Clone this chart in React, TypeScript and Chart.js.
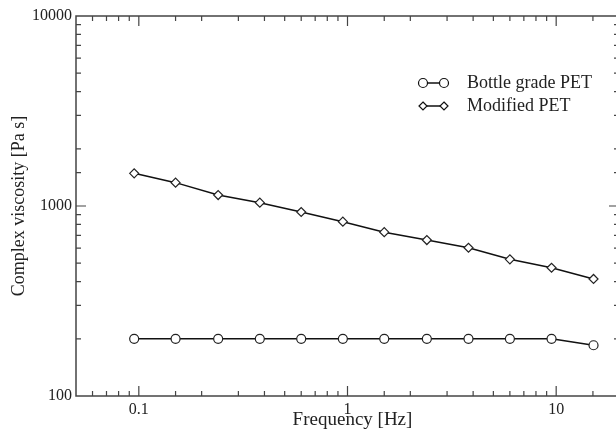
import React, { useEffect, useRef } from "react";
import { Chart, registerables } from "chart.js";

Chart.register(...registerables);

const frequency = [0.095, 0.15, 0.24, 0.38, 0.6, 0.95, 1.5, 2.4, 3.8, 6.0, 9.5, 15.1];
const bottleGrade = [200, 200, 200, 200, 200, 200, 200, 200, 200, 200, 200, 185];
const modifiedPET = [1486, 1327, 1142, 1041, 930, 827, 728, 662, 603, 524, 473, 413];

const xMajorLabels = [0.1, 1, 10];
const yMajorLabels = [100, 1000, 10000];
const seriesNames = ["Bottle grade PET", "Modified PET"];
const xTitle = "Frequency [Hz]";
const yTitle = "Complex viscosity [Pa s]";

const FONT = "'Liberation Serif', 'Times New Roman', serif";

function isMajor(v: number, majors: number[]) {
  return majors.some((m) => Math.abs(v - m) / m < 1e-6);
}

const framePlugin = {
  id: "framePlugin",
  afterDraw(chart: any) {
    const ctx = chart.ctx;
    const { left, right, top, bottom } = chart.chartArea;
    const xs = chart.scales.x;
    const ys = chart.scales.y;
    ctx.save();
    ctx.strokeStyle = "#444";
    ctx.lineWidth = 1.5;
    ctx.strokeRect(left, top, right - left, bottom - top);
    ctx.lineWidth = 1.2;
    ctx.beginPath();
    xs.ticks.forEach((t: any) => {
      const px = xs.getPixelForValue(t.value);
      if (px <= left + 1 || px >= right - 1) return;
      const len = isMajor(t.value, xMajorLabels) ? 10 : 5;
      ctx.moveTo(px, bottom);
      ctx.lineTo(px, bottom - len);
      ctx.moveTo(px, top);
      ctx.lineTo(px, top + len);
    });
    ys.ticks.forEach((t: any) => {
      const py = ys.getPixelForValue(t.value);
      if (py <= top + 1 || py >= bottom - 1) return;
      const len = isMajor(t.value, yMajorLabels) ? 10 : 5;
      ctx.moveTo(left, py);
      ctx.lineTo(left + len, py);
      ctx.moveTo(right, py);
      ctx.lineTo(right - len, py);
    });
    ctx.stroke();

    // axis titles
    ctx.fillStyle = "#222";
    ctx.font = `19px ${FONT}`;
    ctx.textAlign = "center";
    ctx.textBaseline = "middle";
    ctx.fillText(xTitle, xs.getPixelForValue(1) + 5, 420);
    ctx.font = `18px ${FONT}`;
    ctx.save();
    ctx.translate(19, (top + bottom) / 2);
    ctx.rotate(-Math.PI / 2);
    ctx.fillText(yTitle, 0, 0);
    ctx.restore();

    // legend
    const legendY = [83, 106];
    const styles = ["circle", "rectRot"];
    const radii = [4.5, 4];
    ctx.font = `18px ${FONT}`;
    ctx.textAlign = "left";
    seriesNames.forEach((name, i) => {
      const y = legendY[i];
      ctx.strokeStyle = "#111";
      ctx.lineWidth = 1.5;
      ctx.beginPath();
      ctx.moveTo(423, y);
      ctx.lineTo(444, y);
      ctx.stroke();
      [423, 444].forEach((x) => {
        ctx.fillStyle = "#fff";
        ctx.lineWidth = 1.2;
        if (styles[i] === "circle") {
          ctx.beginPath();
          ctx.arc(x, y, radii[i], 0, Math.PI * 2);
        } else {
          const r = radii[i];
          ctx.beginPath();
          ctx.moveTo(x, y - r);
          ctx.lineTo(x + r, y);
          ctx.lineTo(x, y + r);
          ctx.lineTo(x - r, y);
          ctx.closePath();
        }
        ctx.fill();
        ctx.stroke();
      });
      ctx.fillStyle = "#222";
      ctx.fillText(name, 467, y);
    });
    ctx.restore();
  },
};

export default function App() {
  const ref = useRef<HTMLCanvasElement | null>(null);
  useEffect(() => {
    if (!ref.current) return;
    const chart = new Chart(ref.current, {
      type: "line",
      data: {
        datasets: [
          {
            label: seriesNames[0],
            data: frequency.map((f, i) => ({ x: f, y: bottleGrade[i] })),
            borderColor: "#111",
            borderWidth: 1.5,
            pointStyle: "circle",
            pointRadius: 4.5,
            pointBorderWidth: 1.2,
            pointBackgroundColor: "#fff",
            pointBorderColor: "#222",
            tension: 0,
          },
          {
            label: seriesNames[1],
            data: frequency.map((f, i) => ({ x: f, y: modifiedPET[i] })),
            borderColor: "#111",
            borderWidth: 1.5,
            pointStyle: "rectRot",
            pointRadius: 4.5,
            pointBorderWidth: 1.2,
            pointBackgroundColor: "#fff",
            pointBorderColor: "#222",
            tension: 0,
          },
        ],
      },
      options: {
        responsive: false,
        animation: false,
        layout: { padding: { top: 16, right: 11, left: 0, bottom: 0 } },
        plugins: { legend: { display: false }, tooltip: { enabled: false } },
        scales: {
          x: {
            type: "logarithmic",
            min: 0.05,
            max: 20,
            grid: { display: false, drawTicks: false },
            border: { display: false },
            ticks: {
              autoSkip: false,
              maxRotation: 0,
              padding: 4,
              color: "#222",
              font: { family: FONT, size: 16 },
              callback: (v: any) => (isMajor(Number(v), xMajorLabels) ? String(Number(v)) : ""),
            },
            afterFit: (s: any) => {
              s.height = 37;
            },
          },
          y: {
            type: "logarithmic",
            min: 100,
            max: 10000,
            grid: { display: false, drawTicks: false },
            border: { display: false },
            ticks: {
              autoSkip: false,
              padding: 4,
              color: "#222",
              font: { family: FONT, size: 16 },
              callback: (v: any) => (isMajor(Number(v), yMajorLabels) ? String(Number(v)) : ""),
            },
            afterFit: (s: any) => {
              s.width = 76;
            },
          },
        },
      },
      plugins: [framePlugin],
    });
    return () => chart.destroy();
  }, []);
  return (
    <div style={{ position: "fixed", left: 0, top: 0, width: 616, height: 433, overflow: "hidden", background: "#fff" }}>
      <canvas ref={ref} width={630} height={433} style={{ display: "block" }} />
    </div>
  );
}
